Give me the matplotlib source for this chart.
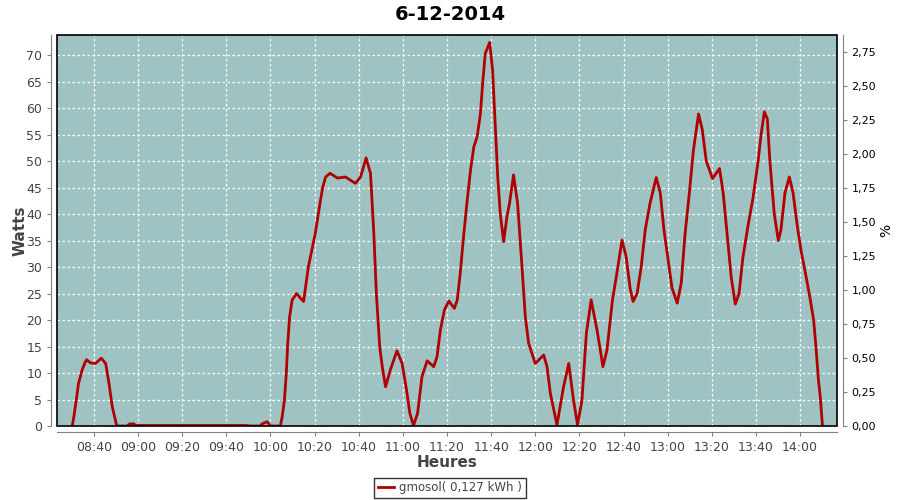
#!/usr/bin/env python3
"""Daily solar production curve (gmosol) for 6-12-2014, JFreeChart look."""

import matplotlib
matplotlib.use("Agg")
import matplotlib.dates as mdates
import matplotlib.pyplot as plt
import pandas as pd
from matplotlib.patches import Rectangle
from matplotlib.ticker import FuncFormatter, MultipleLocator

DAY = "2014-12-06"
TITLE = "6-12-2014"
SERIES_LABEL = "gmosol( 0,127 kWh )"

# readings (time of day, watts)
times = [
    "08:30:10", "08:31:00", "08:32:00", "08:33:00", "08:34:40", "08:36:00",
    "08:36:40", "08:38:30", "08:40:40", "08:43:20", "08:45:20", "08:46:50",
    "08:48:20", "08:50:20", "08:55:00", "08:56:10", "08:58:00", "08:59:00",
    "09:48:40", "09:51:00", "09:55:30", "09:56:10", "09:58:30", "10:00:00",
    "10:04:30", "10:05:20", "10:06:20", "10:07:10", "10:07:50", "10:08:40",
    "10:09:50", "10:11:50", "10:13:40", "10:15:00", "10:17:10", "10:20:20",
    "10:22:40", "10:23:40", "10:25:00", "10:27:00", "10:30:20", "10:34:00",
    "10:38:30", "10:40:50", "10:43:20", "10:45:20", "10:46:20", "10:46:50",
    "10:48:00", "10:49:30", "10:50:40", "10:52:10", "10:54:20", "10:57:20",
    "10:59:40", "11:01:40", "11:03:10", "11:04:50", "11:06:40", "11:08:40",
    "11:11:00", "11:14:00", "11:15:30", "11:17:00", "11:18:50", "11:20:50",
    "11:23:20", "11:24:40", "11:26:00", "11:27:30", "11:29:10", "11:30:40",
    "11:32:10", "11:33:40", "11:35:10", "11:36:10", "11:37:20", "11:39:20",
    "11:40:40", "11:42:00", "11:43:00", "11:44:10", "11:45:40", "11:47:10",
    "11:48:20", "11:50:10", "11:52:00", "11:54:00", "11:55:30", "11:57:00",
    "12:00:00", "12:03:50", "12:05:20", "12:06:50", "12:09:50", "12:12:50",
    "12:15:10", "12:17:20", "12:19:10", "12:21:10", "12:23:10", "12:25:20",
    "12:28:00", "12:29:30", "12:30:40", "12:32:30", "12:34:00", "12:35:00",
    "12:36:40", "12:39:20", "12:41:10", "12:43:00", "12:44:20", "12:46:10",
    "12:48:00", "12:49:50", "12:52:00", "12:54:50", "12:56:40", "12:58:20",
    "13:00:20", "13:02:00", "13:04:20", "13:06:10", "13:07:50", "13:09:50",
    "13:11:40", "13:14:00", "13:15:40", "13:17:30", "13:20:20", "13:23:30",
    "13:25:10", "13:27:00", "13:28:50", "13:30:40", "13:32:20", "13:34:10",
    "13:36:30", "13:38:40", "13:41:00", "13:42:20", "13:43:50", "13:45:10",
    "13:46:20", "13:48:20", "13:50:10", "13:51:20", "13:53:10", "13:55:10",
    "13:56:50", "13:58:40", "14:00:30", "14:02:50", "14:04:40", "14:06:10",
    "14:07:20", "14:08:20", "14:09:10", "14:10:10",
]
watts = [
    0.0, 2.0, 4.9, 8.0, 10.6, 12.0,
    12.5, 11.9, 11.8, 12.8, 11.8, 8.0,
    3.6, 0.0, 0.0, 0.4, 0.4, 0.1,
    0.1, 0.0, 0.0, 0.4, 0.8, 0.0,
    0.0, 1.8, 4.9, 9.9, 15.6, 20.6,
    23.8, 25.0, 24.1, 23.5, 30.0, 36.4,
    42.6, 45.0, 47.0, 47.7, 46.8, 47.0,
    45.8, 47.0, 50.6, 47.7, 40.2, 36.4,
    25.0, 15.0, 11.2, 7.4, 10.6, 14.2,
    11.8, 6.8, 2.4, 0.1, 2.4, 9.3,
    12.3, 11.2, 13.1, 18.1, 21.9, 23.6,
    22.2, 23.8, 28.8, 35.7, 42.6, 48.3,
    52.7, 54.6, 59.0, 64.7, 70.3, 72.4,
    67.2, 55.8, 47.0, 40.0, 34.8, 39.5,
    42.0, 47.4, 42.0, 30.0, 20.6, 15.6,
    11.8, 13.4, 11.2, 6.2, 0.2, 7.4,
    11.8, 4.9, 0.2, 4.9, 17.5, 23.8,
    18.1, 14.3, 11.2, 14.3, 20.0, 23.8,
    28.0, 35.1, 32.0, 26.0, 23.5, 25.0,
    30.0, 37.0, 42.0, 46.9, 44.0, 37.0,
    31.0, 26.0, 23.2, 27.0, 36.0, 44.0,
    52.0, 58.9, 56.0, 50.0, 46.7, 48.6,
    44.0, 36.0, 28.0, 23.0, 25.0, 32.0,
    38.0, 43.0, 50.0, 55.0, 59.3, 58.0,
    50.0, 40.0, 35.0, 37.0, 44.0, 47.0,
    44.0, 38.0, 33.0, 28.0, 23.8, 20.0,
    14.3, 8.7, 5.5, 0.0,
]

X_START, X_END = "08:23:15", "14:16:45"
W_MAX = 73.8
PCT_MAX = 2.875

BG = "#9fc3c3"
RED = "#b00000"
AXIS_GREY = "#808080"


def main():
    t = pd.to_datetime([f"{DAY} {s}" for s in times])

    fig = plt.figure(figsize=(9, 5), dpi=100)
    ax = fig.add_axes([0.0633, 0.148, 0.8667, 0.782])
    ax.set_facecolor(BG)

    line, = ax.plot(t, watts, color=RED, lw=2, zorder=3)

    ax.set_xlim(pd.Timestamp(f"{DAY} {X_START}"), pd.Timestamp(f"{DAY} {X_END}"))
    ax.set_ylim(0, W_MAX)
    ax.xaxis.set_major_locator(mdates.MinuteLocator(byminute=[0, 20, 40]))
    ax.xaxis.set_major_formatter(mdates.DateFormatter("%H:%M"))
    ax.yaxis.set_major_locator(MultipleLocator(5))

    ax.grid(True, color="white", ls=(0, (2, 2)), lw=0.9)
    ax.set_axisbelow(True)

    # JFreeChart style: grey axis lines sitting a few px off the plot box
    for side in ("left", "bottom"):
        ax.spines[side].set_position(("outward", 4))
        ax.spines[side].set_color(AXIS_GREY)
    for side in ("top", "right"):
        ax.spines[side].set_visible(False)
    ax.add_patch(Rectangle((0, 0), 1, 1, transform=ax.transAxes, fill=False,
                           ec="black", lw=1.2, clip_on=False, zorder=5))
    ax.tick_params(length=3, color=AXIS_GREY, labelcolor="#444444",
                   labelsize=9)

    ax.set_xlabel("Heures", fontsize=11, fontweight="bold", color="#444444",
                  labelpad=1)
    ax.set_ylabel("Watts", fontsize=11, fontweight="bold", color="#444444",
                  labelpad=-1)
    fig.text(0.5, 0.972, TITLE, ha="center", va="center", fontsize=14,
             fontweight="bold")

    # right-hand % axis
    ax2 = ax.twinx()
    ax2.set_ylim(0, PCT_MAX)
    ax2.yaxis.set_major_locator(MultipleLocator(0.25))
    ax2.yaxis.set_major_formatter(
        FuncFormatter(lambda v, _: f"{v:.2f}".replace(".", ",")))
    ax2.spines["right"].set_position(("outward", 4))
    ax2.spines["right"].set_color(AXIS_GREY)
    for side in ("left", "top", "bottom"):
        ax2.spines[side].set_visible(False)
    ax2.tick_params(length=3, color=AXIS_GREY, labelcolor="black",
                    labelsize=8)
    ax2.set_ylabel("%", fontsize=10, color="black", labelpad=2)

    leg = fig.legend([line], [SERIES_LABEL], loc="center",
                     bbox_to_anchor=(0.5, 0.024), fontsize=8.5,
                     frameon=True, fancybox=False, handlelength=1.4,
                     borderpad=0.3, handletextpad=0.4, borderaxespad=0)
    leg.get_frame().set_edgecolor("black")
    leg.get_frame().set_linewidth(1)
    for txt in leg.get_texts():
        txt.set_color("#444444")

    fig.savefig("out.png", dpi=100)


if __name__ == "__main__":
    main()
